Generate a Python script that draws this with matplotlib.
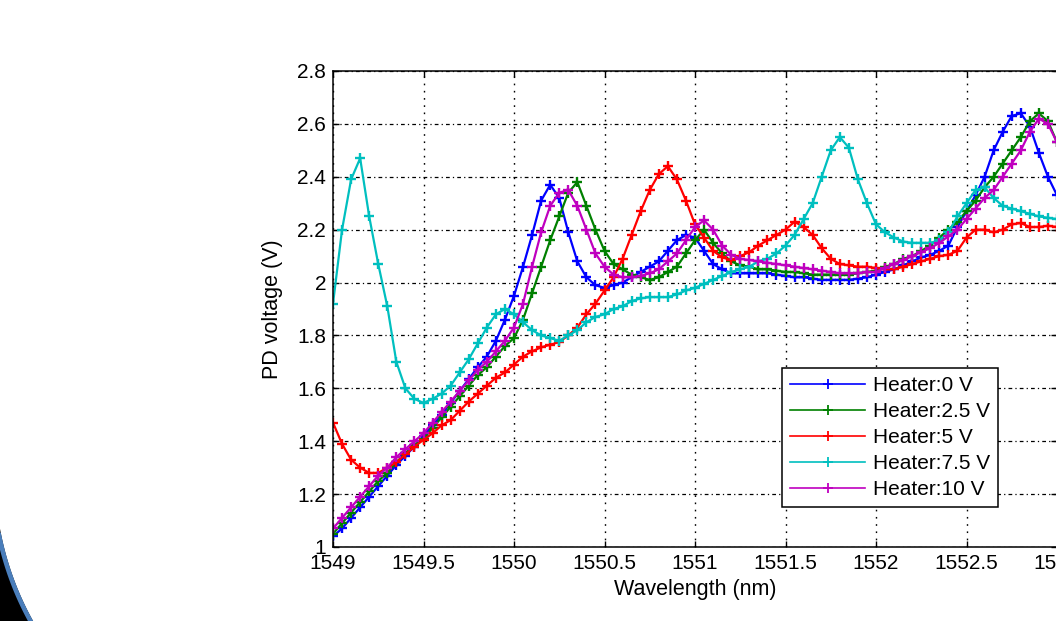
#!/usr/bin/env python3
# coding=utf-8

import numpy as np
import matplotlib
matplotlib.use('Agg')
import matplotlib.pyplot as plt
from matplotlib.ticker import MultipleLocator, FormatStrFormatter
from matplotlib.patches import Polygon

plt.rcParams['font.family'] = ['Liberation Sans', 'DejaVu Sans']

# wavelength grid (nm), one reading every 0.05 nm
wavelength = np.round(np.arange(1549.0, 1553.001, 0.05), 2)

# PD voltage (V), rows of 0.5 nm
v_0 = [1.04, 1.07, 1.11, 1.15, 1.19, 1.23, 1.27, 1.31, 1.345, 1.38,
       1.42, 1.46, 1.50, 1.545, 1.59, 1.635, 1.68, 1.72, 1.78, 1.86,
       1.95, 2.06, 2.18, 2.31, 2.37, 2.32, 2.19, 2.08, 2.02, 1.99,
       1.98, 1.99, 2.00, 2.02, 2.04, 2.06, 2.08, 2.12, 2.16, 2.18,
       2.17, 2.12, 2.07, 2.05, 2.035, 2.035, 2.035, 2.035, 2.035, 2.03,
       2.025, 2.02, 2.02, 2.015, 2.01, 2.01, 2.01, 2.01, 2.015, 2.02,
       2.03, 2.04, 2.05, 2.065, 2.08, 2.095, 2.105, 2.12, 2.14, 2.21,
       2.27, 2.33, 2.40, 2.50, 2.57, 2.63, 2.64, 2.59, 2.49, 2.40,
       2.33]
v_2_5 = [1.05, 1.09, 1.13, 1.17, 1.21, 1.25, 1.28, 1.32, 1.355, 1.385,
         1.41, 1.45, 1.49, 1.53, 1.57, 1.61, 1.65, 1.68, 1.72, 1.76,
         1.79, 1.86, 1.96, 2.06, 2.16, 2.25, 2.34, 2.38, 2.29, 2.20,
         2.12, 2.07, 2.05, 2.03, 2.02, 2.01, 2.02, 2.04, 2.06, 2.11,
         2.16, 2.20, 2.15, 2.11, 2.08, 2.065, 2.06, 2.05, 2.05, 2.045,
         2.04, 2.04, 2.035, 2.03, 2.03, 2.03, 2.03, 2.03, 2.035, 2.04,
         2.045, 2.06, 2.07, 2.09, 2.10, 2.12, 2.14, 2.17, 2.20, 2.23,
         2.27, 2.31, 2.36, 2.40, 2.45, 2.50, 2.55, 2.61, 2.64, 2.61,
         2.53]
v_5 = [1.47, 1.39, 1.33, 1.30, 1.28, 1.28, 1.30, 1.32, 1.35, 1.38,
       1.405, 1.43, 1.46, 1.48, 1.515, 1.55, 1.58, 1.61, 1.64, 1.66,
       1.69, 1.72, 1.74, 1.755, 1.765, 1.775, 1.80, 1.83, 1.88, 1.92,
       1.97, 2.02, 2.09, 2.18, 2.27, 2.35, 2.41, 2.44, 2.39, 2.31,
       2.22, 2.17, 2.12, 2.095, 2.085, 2.10, 2.115, 2.14, 2.16, 2.18,
       2.20, 2.23, 2.21, 2.18, 2.13, 2.09, 2.07, 2.065, 2.06, 2.06,
       2.055, 2.05, 2.05, 2.06, 2.07, 2.08, 2.09, 2.10, 2.105, 2.12,
       2.17, 2.20, 2.20, 2.19, 2.20, 2.22, 2.225, 2.21, 2.21, 2.215,
       2.21]
v_7_5 = [1.92, 2.20, 2.39, 2.47, 2.25, 2.07, 1.91, 1.70, 1.60, 1.56,
         1.545, 1.56, 1.58, 1.61, 1.66, 1.71, 1.77, 1.83, 1.88, 1.90,
         1.88, 1.85, 1.82, 1.80, 1.79, 1.78, 1.80, 1.82, 1.85, 1.87,
         1.88, 1.90, 1.91, 1.93, 1.94, 1.945, 1.945, 1.945, 1.955, 1.97,
         1.98, 1.995, 2.01, 2.025, 2.04, 2.05, 2.06, 2.08, 2.09, 2.11,
         2.14, 2.18, 2.24, 2.30, 2.40, 2.50, 2.55, 2.51, 2.39, 2.30,
         2.22, 2.19, 2.17, 2.155, 2.15, 2.15, 2.15, 2.16, 2.19, 2.25,
         2.30, 2.35, 2.36, 2.32, 2.29, 2.28, 2.27, 2.26, 2.25, 2.245,
         2.24]
v_10 = [1.07, 1.11, 1.15, 1.19, 1.23, 1.27, 1.30, 1.34, 1.37, 1.40,
        1.43, 1.47, 1.51, 1.55, 1.59, 1.63, 1.67, 1.70, 1.74, 1.78,
        1.83, 1.92, 2.06, 2.19, 2.29, 2.34, 2.35, 2.29, 2.20, 2.11,
        2.06, 2.03, 2.02, 2.02, 2.025, 2.035, 2.05, 2.08, 2.11, 2.16,
        2.21, 2.235, 2.20, 2.14, 2.105, 2.09, 2.085, 2.08, 2.075, 2.07,
        2.065, 2.06, 2.055, 2.05, 2.045, 2.04, 2.035, 2.035, 2.035, 2.04,
        2.04, 2.055, 2.07, 2.085, 2.10, 2.115, 2.13, 2.15, 2.175, 2.20,
        2.24, 2.28, 2.32, 2.35, 2.40, 2.45, 2.50, 2.57, 2.62, 2.60,
        2.53]

series = [v_0, v_2_5, v_5, v_7_5, v_10]
labels = ['Heater:0 V', 'Heater:2.5 V', 'Heater:5 V', 'Heater:7.5 V', 'Heater:10 V']
colors = ['#0000ff', '#008000', '#ff0000', '#00bfbf', '#bf00bf']

W, H = 1056, 621
fig = plt.figure(figsize=(W / 100, H / 100), dpi=100)

# dark corner decoration (bottom left)
R, cx, cy = 303.0, 298.0, 474.0
yy = np.linspace(515, 630, 60)
xx = cx - np.sqrt(R ** 2 - (yy - cy) ** 2)
pts = [(x / W, 1 - y / H) for x, y in zip(xx, yy)] + [(-0.02, 1 - 630 / H), (-0.02, 1 - 515 / H)]
fig.add_artist(Polygon(pts, closed=True, facecolor='black', edgecolor='none',
                       transform=fig.transFigure, zorder=0))
xb = cx - np.sqrt((R + 2.2) ** 2 - (yy - cy) ** 2)
fig.add_artist(plt.Line2D(xb / W, 1 - yy / H, color='#4a7ebb', lw=3.3,
                          transform=fig.transFigure, zorder=1))

ax = fig.add_axes([333 / W, 74 / H, 724 / W, 476 / H])

for vals, lab, col in zip(series, labels, colors):
    ax.plot(wavelength, vals, color=col, lw=1.6, marker='+', markersize=7,
            markeredgewidth=1.7, label=lab)

ax.set_xlim(1549, 1553)
ax.set_ylim(1, 2.8)
ax.xaxis.set_major_locator(MultipleLocator(0.5))
ax.xaxis.set_major_formatter(FormatStrFormatter('%g'))
ax.yaxis.set_major_locator(MultipleLocator(0.2))
ax.yaxis.set_major_formatter(FormatStrFormatter('%g'))

ax.xaxis.grid(True, ls=(0, (1.2, 4)), color='black', lw=1.0)
ax.yaxis.grid(True, ls=(0, (3, 2.5, 1, 2.5)), color='black', lw=0.9)
ax.set_axisbelow(True)

ax.tick_params(direction='in', length=4, width=1, top=True, right=True,
               labelsize=15, pad=5)
for s in ax.spines.values():
    s.set_linewidth(1.1)

ax.set_xlabel('Wavelength (nm)', fontsize=15.5, labelpad=4)
ax.set_ylabel('PD voltage (V)', fontsize=15.5, labelpad=10)

leg = ax.legend(loc='upper left', bbox_to_anchor=(782 / W, 1 - 368 / H),
                bbox_transform=fig.transFigure, borderaxespad=0,
                fancybox=False, shadow=False, framealpha=1, edgecolor='black',
                fontsize=15, handlelength=3.6, handletextpad=0.35,
                labelspacing=0.33, borderpad=0.4, numpoints=1)
leg.get_frame().set_linewidth(1.1)
for h in leg.legend_handles:
    h.set_linewidth(1.2)
    h.set_markeredgewidth(1.3)

fig.savefig('out.png', dpi=100)
